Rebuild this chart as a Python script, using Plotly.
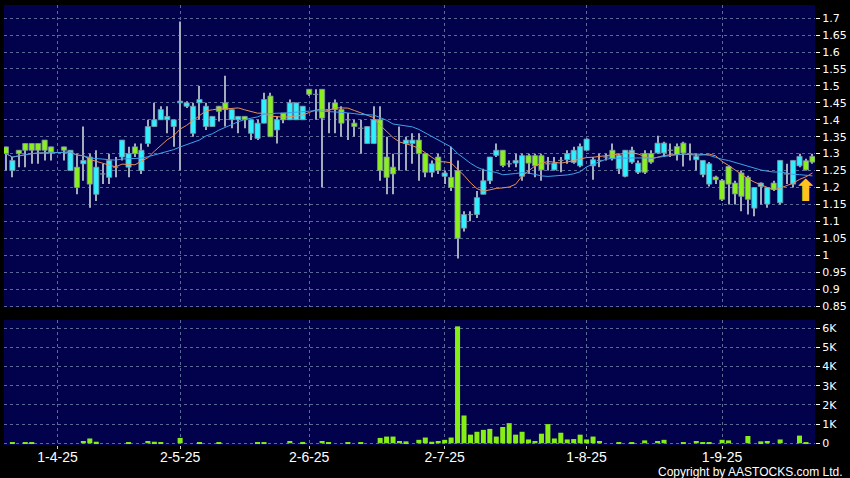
import pandas as pd
import plotly.graph_objects as go
from plotly.subplots import make_subplots

# ---- data ----
holidays = ["2025-04-04", "2025-04-18", "2025-04-21", "2025-05-01", "2025-05-05", "2025-07-01"]
dates = [d.strftime("%Y-%m-%d") for d in
         pd.bdate_range("2025-03-20", "2025-09-19", freq="C", holidays=holidays)]

opens = [1.32, 1.25, 1.31, 1.33, 1.33, 1.33, 1.34, 1.32, None, 1.32,
         1.25, 1.26, 1.27, 1.29, 1.18, 1.24, 1.23, 1.26, 1.29, 1.26,
         1.32, 1.25, 1.33, 1.38, 1.40, 1.40, 1.38, 1.45, 1.44, 1.36,
         1.45, 1.38, 1.38, 1.44, 1.45, 1.40, 1.40, 1.41, 1.36, 1.345,
         1.39, 1.47, 1.37, 1.42, 1.40, 1.40, 1.40, 1.49, 1.475, 1.49,
         1.43, 1.45, 1.43, 1.40, 1.39, 1.375, 1.33, 1.33, 1.40, 1.29,
         1.26, 1.30, 1.33, 1.33, 1.34, 1.30, 1.245, 1.29, 1.233, 1.23,
         1.25, 1.08, 1.12, 1.12, 1.18, 1.22, 1.295, 1.31, 1.27, 1.272,
         1.233, 1.294, 1.294, 1.294, 1.27, 1.252, 1.28, 1.282, 1.274, 1.264,
         1.31, 1.264, 1.28, 1.29, 1.31, 1.255, 1.233, 1.275, 1.245, 1.30,
         1.30, 1.302, 1.302, 1.31, 1.321, 1.331, 1.30, 1.282, 1.238, 1.21,
         1.231, 1.221, 1.262, 1.213, 1.243, 1.23, 1.139, 1.203, 1.151, 1.213,
         1.155, 1.24, 1.21, 1.264, 1.279, 1.292]
highs = [1.32, 1.29, 1.31, 1.33, 1.33, 1.33, 1.34, 1.32, None, 1.32,
         1.31, 1.30, 1.38, 1.30, 1.31, 1.27, 1.30, 1.29, 1.34, 1.32,
         1.33, 1.33, 1.40, 1.45, 1.44, 1.44, 1.40, 1.69, 1.455, 1.45,
         1.50, 1.45, 1.41, 1.44, 1.53, 1.43, 1.41, 1.41, 1.40, 1.40,
         1.48, 1.48, 1.41, 1.42, 1.46, 1.45, 1.44, 1.49, 1.49, 1.49,
         1.45, 1.46, 1.44, 1.42, 1.40, 1.40, 1.38, 1.44, 1.44, 1.35,
         1.30, 1.38, 1.35, 1.36, 1.36, 1.30, 1.28, 1.30, 1.25, 1.32,
         1.28, 1.13, 1.13, 1.19, 1.255, 1.29, 1.33, 1.31, 1.28, 1.30,
         1.30, 1.30, 1.30, 1.30, 1.29, 1.29, 1.29, 1.31, 1.32, 1.33,
         1.345, 1.29, 1.30, 1.30, 1.33, 1.30, 1.31, 1.32, 1.28, 1.31,
         1.31, 1.353, 1.335, 1.33, 1.33, 1.335, 1.33, 1.30, 1.28, 1.275,
         1.235, 1.225, 1.265, 1.22, 1.25, 1.235, 1.20, 1.215, 1.20, 1.22,
         1.28, 1.27, 1.28, 1.30, 1.285, 1.30]
lows = [1.25, 1.23, 1.26, 1.26, 1.27, 1.27, 1.28, 1.28, None, 1.28,
        1.25, 1.18, 1.22, 1.14, 1.16, 1.21, 1.21, 1.23, 1.28, 1.23,
        1.29, 1.24, 1.32, 1.38, 1.40, 1.36, 1.32, 1.25, 1.435, 1.35,
        1.40, 1.37, 1.38, 1.395, 1.38, 1.375, 1.36, 1.375, 1.34, 1.34,
        1.39, 1.35, 1.33, 1.39, 1.40, 1.40, 1.40, 1.47, 1.40, 1.20,
        1.36, 1.36, 1.35, 1.34, 1.35, 1.30, 1.33, 1.33, 1.22, 1.18,
        1.18, 1.25, 1.25, 1.27, 1.22, 1.23, 1.23, 1.24, 1.21, 1.19,
        0.99, 1.07, 1.10, 1.11, 1.18, 1.21, 1.29, 1.26, 1.26, 1.26,
        1.22, 1.24, 1.23, 1.22, 1.25, 1.25, 1.245, 1.27, 1.27, 1.26,
        1.31, 1.223, 1.26, 1.28, 1.28, 1.24, 1.23, 1.27, 1.24, 1.24,
        1.27, 1.30, 1.29, 1.29, 1.28, 1.262, 1.28, 1.25, 1.23, 1.203,
        1.21, 1.16, 1.15, 1.15, 1.13, 1.12, 1.115, 1.15, 1.14, 1.19,
        1.15, 1.21, 1.20, 1.26, 1.25, 1.27]
closes = [1.30, 1.28, 1.30, 1.31, 1.31, 1.31, 1.31, 1.305, None, 1.31,
          1.31, 1.20, 1.28, 1.21, 1.26, 1.24, 1.28, 1.26, 1.34, 1.30,
          1.30, 1.31, 1.38, 1.40, 1.43, 1.41, 1.40, 1.455, 1.45, 1.44,
          1.46, 1.44, 1.41, 1.425, 1.43, 1.43, 1.41, 1.40, 1.40, 1.39,
          1.46, 1.35, 1.40, 1.40, 1.45, 1.45, 1.44, 1.475, 1.475, 1.405,
          1.43, 1.43, 1.39, 1.40, 1.38, 1.375, 1.38, 1.40, 1.25, 1.23,
          1.24, 1.30, 1.34, 1.34, 1.30, 1.245, 1.27, 1.25, 1.243, 1.20,
          1.05, 1.12, 1.12, 1.17, 1.22, 1.29, 1.31, 1.265, 1.27, 1.28,
          1.294, 1.272, 1.264, 1.252, 1.27, 1.272, 1.28, 1.30, 1.31, 1.321,
          1.343, 1.282, 1.28, 1.29, 1.285, 1.295, 1.31, 1.31, 1.272, 1.245,
          1.275, 1.331, 1.331, 1.31, 1.297, 1.302, 1.30, 1.292, 1.28, 1.27,
          1.223, 1.165, 1.21, 1.181, 1.174, 1.165, 1.20, 1.213, 1.20, 1.195,
          1.28, 1.24, 1.28, 1.292, 1.252, 1.275]
volume_k = [0, 0.06, 0, 0.05, 0.05, 0, 0, 0, 0, 0,
            0, 0, 0.12, 0.25, 0.08, 0, 0, 0, 0, 0.03,
            0, 0, 0.12, 0.08, 0.06, 0, 0, 0.28, 0, 0,
            0.04, 0, 0, 0.03, 0, 0, 0, 0, 0, 0.04,
            0.05, 0, 0, 0, 0.12, 0, 0.07, 0, 0, 0.12,
            0.06, 0, 0, 0.03, 0, 0.06, 0, 0, 0.28, 0.35,
            0.35, 0.12, 0.10, 0, 0.18, 0.30, 0.08, 0.12, 0.18, 0.30,
            6.10, 1.45, 0.45, 0.60, 0.70, 0.75, 0.35, 0.85, 1.05, 0.45,
            0.60, 0.20, 0.12, 0.50, 1.00, 0.25, 0.55, 0.20, 0.22, 0.45,
            0.20, 0.35, 0.12, 0, 0, 0.05, 0, 0.05, 0, 0.15,
            0, 0.12, 0.18, 0, 0, 0.03, 0, 0.12, 0.06, 0.06,
            0, 0.18, 0.15, 0, 0, 0.38, 0, 0.10, 0.12, 0,
            0.20, 0, 0, 0.40, 0.05, 0]

x_tick_dates = ["2025-04-01", "2025-05-02", "2025-06-02", "2025-07-02", "2025-08-01", "2025-09-01"]
x_tick_labels = ["1-4-25", "2-5-25", "2-6-25", "2-7-25", "1-8-25", "1-9-25"]
price_ticks = [0.85, 0.9, 0.95, 1.0, 1.05, 1.1, 1.15, 1.2, 1.25, 1.3, 1.35, 1.4,
               1.45, 1.5, 1.55, 1.6, 1.65, 1.7]
price_tick_labels = ["0.85", "0.9", "0.95", "1", "1.05", "1.1", "1.15", "1.2", "1.25",
                     "1.3", "1.35", "1.4", "1.45", "1.5", "1.55", "1.6", "1.65", "1.7"]
vol_ticks = [0, 1, 2, 3, 4, 5, 6]
vol_tick_labels = ["0", "1K", "2K", "3K", "4K", "5K", "6K"]

# derived series (moving averages, wicks and candle bodies) from the OHLC lists
close_s = pd.Series(closes, dtype="float64")
open_s = pd.Series(opens, dtype="float64")
high_s = pd.Series(highs, dtype="float64")
low_s = pd.Series(lows, dtype="float64")
ma10 = close_s.rolling(10, min_periods=1).mean()
ma20 = close_s.rolling(20, min_periods=1).mean()
wick_len = high_s - low_s
body_low = pd.concat([open_s, close_s], axis=1).min(axis=1)
body_len = (close_s - open_s).abs()
is_up = close_s >= open_s
up_len = body_len.where(is_up)
dn_len = body_len.where(~is_up)

UP_FILL = "#2ff0ff"
DN_FILL = "#8af01c"
EDGE = "#7f93a6"
WICK = "#a3acba"

# ---- figure ----
fig = make_subplots(rows=2, cols=1, shared_xaxes=True, vertical_spacing=0.03)

fig.add_trace(go.Bar(x=dates, y=wick_len, base=low_s, width=0.16,
                     marker=dict(color=WICK, line=dict(width=0)),
                     showlegend=False, hoverinfo="skip"), row=1, col=1)
fig.add_trace(go.Bar(x=dates, y=up_len, base=body_low, width=0.8,
                     marker=dict(color=UP_FILL, line=dict(color=EDGE, width=0.8)),
                     showlegend=False, hoverinfo="skip"), row=1, col=1)
fig.add_trace(go.Bar(x=dates, y=dn_len, base=body_low, width=0.8,
                     marker=dict(color=DN_FILL, line=dict(color=EDGE, width=0.8)),
                     showlegend=False, hoverinfo="skip"), row=1, col=1)
fig.add_trace(go.Scatter(x=dates, y=ma10, mode="lines", connectgaps=True,
                         line=dict(color="#e8905a", width=1), showlegend=False,
                         hoverinfo="skip"), row=1, col=1)
fig.add_trace(go.Scatter(x=dates, y=ma20, mode="lines", connectgaps=True,
                         line=dict(color="#3da2ea", width=1), showlegend=False,
                         hoverinfo="skip"), row=1, col=1)
fig.add_trace(go.Bar(x=dates, y=volume_k, width=0.78,
                     marker=dict(color="#86ee14", line=dict(width=0)),
                     showlegend=False, hoverinfo="skip"), row=2, col=1)

grid = dict(showgrid=True, gridcolor="#5a6a96", griddash="3px,3px", gridwidth=1,
            zeroline=False, showline=False)
axis_font = dict(family="DejaVu Sans", size=11, color="#ffffff")

fig.update_xaxes(type="category", categoryorder="array", categoryarray=dates,
                 range=[-0.3, 125.4], tickvals=x_tick_dates, ticktext=x_tick_labels,
                 **grid)
fig.update_xaxes(showticklabels=False, ticks="", row=1, col=1)
fig.update_xaxes(showticklabels=True, ticks="outside", ticklen=3, tickcolor="#cccccc",
                 ticklabelstandoff=-4,
                 tickfont=dict(family="Liberation Sans Narrow, Liberation Sans", size=14,
                               color="#ffffff"), row=2, col=1)

fig.update_yaxes(side="right", range=[0.847, 1.739], tickvals=price_ticks,
                 ticktext=price_tick_labels, ticks="outside", ticklen=4,
                 tickcolor="#ffffff", tickfont=axis_font, **grid, row=1, col=1)
fig.update_yaxes(side="right", range=[-0.09, 6.43], tickvals=vol_ticks,
                 ticktext=vol_tick_labels, ticks="outside", ticklen=4,
                 tickcolor="#ffffff", tickfont=axis_font, **grid, row=2, col=1)

fig.update_layout(
    width=850, height=478,
    margin=dict(l=4, r=35, t=5, b=33),
    paper_bgcolor="#000000", plot_bgcolor="#02024c",
    barmode="overlay",
    yaxis=dict(domain=[0.3136, 1.0]),
    yaxis2=dict(domain=[0.0, 0.284]),
    showlegend=False,
)

fig.add_annotation(x=dates[124], y=1.19, xref="x", yref="y", text="⬆",
                   showarrow=False, font=dict(family="DejaVu Sans", size=30, color="#ffc21c"),
                   xanchor="center", yanchor="middle")
fig.add_annotation(x=1.037, y=-0.062, xref="paper", yref="paper",
                   text="Copyright by AASTOCKS.com Ltd.", showarrow=False,
                   font=dict(family="Liberation Sans Narrow, Liberation Sans", size=12,
                             color="#ffffff"),
                   xanchor="right", yanchor="middle")

fig.write_html("out.html", config={"displayModeBar": False},
               post_script="document.body.style.margin='0';document.body.style.background='#000';")
